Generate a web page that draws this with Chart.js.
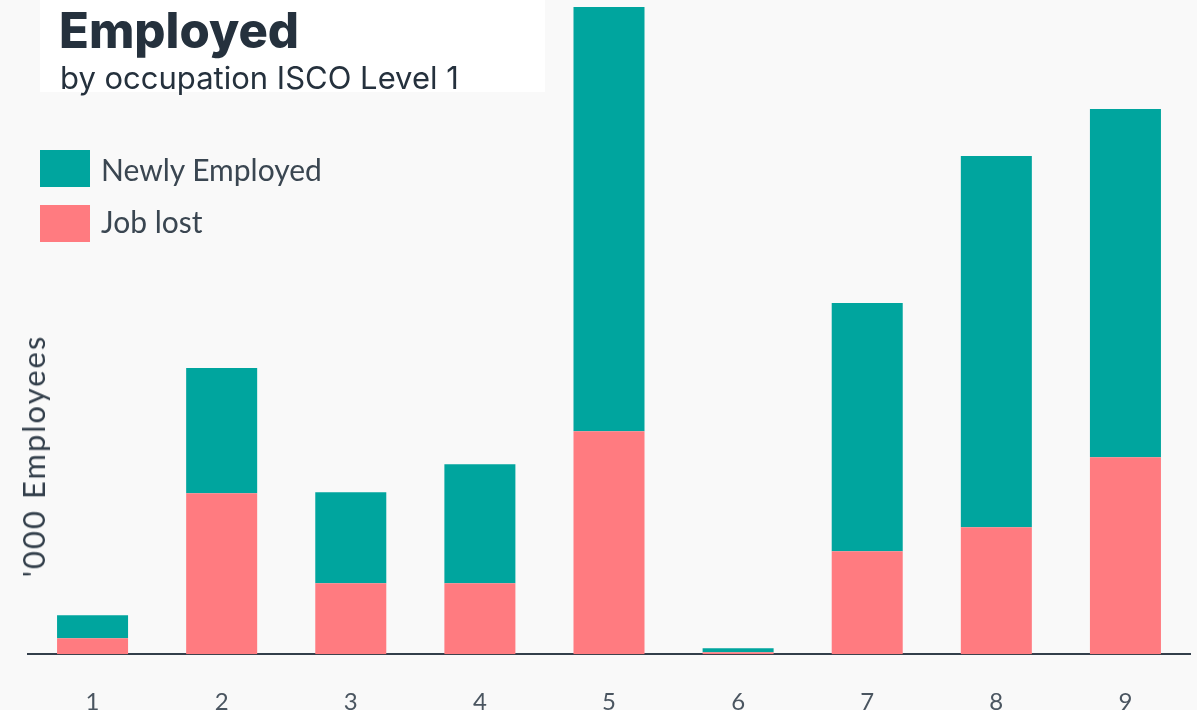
<!DOCTYPE html>
<html>
<head>
<meta charset="utf-8">
<script src="https://cdn.jsdelivr.net/npm/chart.js@4"></script>
<style>
  html, body { margin: 0; padding: 0; background: #f9f9f9; }
  #wrap { position: relative; width: 1197px; height: 710px; overflow: hidden; }
  #chartDiv { position: absolute; left: 0; top: 0; }
  .titleBox { position: absolute; left: 40px; top: 0; width: 505px; height: 92px; background: #fff; }
  .title { position: absolute; left: 59px; top: 1px; font: 800 49px "Inter", sans-serif; color: #25313d; }
  .sub { position: absolute; left: 60px; top: 59px; font: 400 31px "Inter", sans-serif; color: #25313d; }
  .legend { position: absolute; left: 40px; font: 400 30px "Lato", sans-serif; color: #3a4651; }
  .legend span.box { position: absolute; left: 0; width: 50px; height: 37px; }
  .legend span.txt { position: absolute; left: 61px; white-space: nowrap; }
  .yTitle { position: absolute; left: 33px; top: 456px; transform: translate(-50%, -50%) rotate(-90deg);
            font: 400 31px "Lato", sans-serif; letter-spacing: 2px; color: #333f4b; white-space: nowrap; }
</style>
</head>
<body>
<div id="wrap">
  <canvas id="chartDiv" width="1197" height="743"></canvas>
  <div class="titleBox"></div>
  <div class="title">Employed</div>
  <div class="sub">by occupation ISCO Level 1</div>
  <div class="legend" style="top:150px"><span class="box" style="background:#00a59e"></span><span class="txt" style="top:1px">Newly Employed</span></div>
  <div class="legend" style="top:205px"><span class="box" style="background:#ff7b80"></span><span class="txt" style="top:-2px">Job lost</span></div>
  <div class="yTitle">'000 Employees</div>
</div>
<script>
const categories    = ["1", "2", "3", "4", "5", "6", "7", "8", "9"];
const jobLost       = [16, 161, 71, 71, 223, 2, 103, 127, 197];
const newlyEmployed = [23, 125, 91, 119, 424, 4, 248, 371, 348];

const ctx = document.getElementById("chartDiv");

const chart = new Chart(ctx, {
    type: "bar",
    data: {
        labels: categories,
        datasets: [
            { label: "Job lost", data: jobLost, backgroundColor: "#ff7b80" },
            { label: "Newly Employed", data: newlyEmployed, backgroundColor: "#00a59e" }
        ]
    },
    options: {
        responsive: false,
        animation: false,
        layout: { padding: { left: 28, right: 7, top: 0, bottom: 0 } },
        plugins: { legend: { display: false }, tooltip: { enabled: false } },
        datasets: { bar: { barPercentage: 1, categoryPercentage: 0.55 } },
        scales: {
            x: {
                stacked: true,
                grid: { display: false },
                border: { display: true, color: "#333f4b", width: 2 },
                ticks: { color: "#4a5560", font: { family: "Lato", size: 24 }, padding: 26 }
            },
            y: {
                stacked: true,
                display: false,
                min: 0,
                max: 654
            }
        }
    }
});
</script>
</body>
</html>
